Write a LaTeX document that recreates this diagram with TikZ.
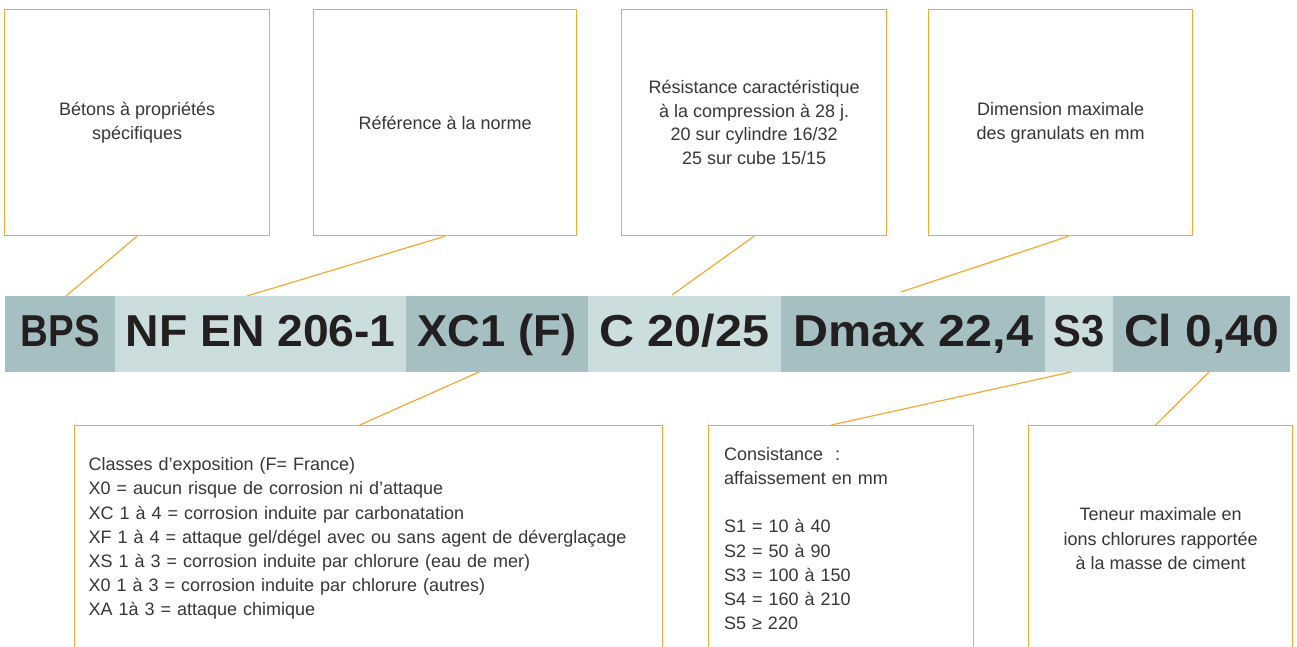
\documentclass[tikz,border=0pt]{standalone}
\usepackage{fontspec}
\setmainfont{Liberation Sans}
\usepackage{graphicx}
\usetikzlibrary{calc}
\definecolor{boxorange}{RGB}{247,168,50}
\definecolor{banddark}{RGB}{165,191,195}
\definecolor{bandlight}{RGB}{203,221,221}
\definecolor{bandtext}{RGB}{35,31,32}
\definecolor{txt}{RGB}{55,55,55}
\newsavebox\bandsbox
\newlength\bandw
\newcommand\bandlabel[2]{\sbox\bandsbox{\fontsize{44.7}{50}\selectfont\bfseries #2}\setlength\bandw{\wd\bandsbox}\pgfmathsetmacro\bandsx{#1/\bandw}\scalebox{\bandsx}[1]{\usebox\bandsbox}}
\tikzset{
  callout/.style={draw=boxorange, line width=1.2pt, fill=white, minimum height=226pt,
    inner sep=0pt, anchor=north west, text=txt},
  toptext/.style={align=center, font=\fontsize{18}{23.7}\selectfont},
  bottext/.style={font=\fontsize{18}{24.2}\selectfont},
  cell/.style={anchor=west, minimum height=76pt, inner sep=0pt, text=bandtext,
    text height=30pt, text depth=5pt},
  dark/.style={fill=banddark},
  light/.style={fill=bandlight},
  connector/.style={draw=boxorange, line width=1.2pt}
}
\begin{document}
\begin{tikzpicture}[x=1pt,y=-1pt]
\useasboundingbox (0,0) rectangle (1297,646);
\clip (0,0) rectangle (1297,646);
% top boxes
\node[callout, toptext, minimum width=265pt] (b1) at (4,9) {Bétons à propriétés\\spécifiques};
\node[callout, toptext, minimum width=263pt] (b2) at (313,9) {Référence à la norme};
\node[callout, toptext, minimum width=265pt] (b3) at (621,9) {Résistance caractéristique\\à la compression à 28 j.\\20 sur cylindre 16/32\\25 sur cube 15/15};
\node[callout, toptext, minimum width=264pt] (b4) at (928,9) {Dimension maximale\\des granulats en mm};
% band
\node[cell, dark, minimum width=110pt] (c1) at (5,334) {\bandlabel{79}{BPS}};
\node[cell, light, minimum width=291pt] (c2) at (115,334) {\bandlabel{270}{NF EN 206-1}};
\node[cell, dark, minimum width=181.5pt] (c3) at (406,334) {\bandlabel{158.6}{XC1 (F)}};
\node[cell, light, minimum width=193.5pt] (c4) at (587.5,334) {\bandlabel{170}{C 20/25}};
\node[cell, dark, minimum width=264pt] (c5) at (781,334) {\bandlabel{240}{Dmax 22,4}};
\node[cell, light, minimum width=68pt] (c6) at (1045,334) {\bandlabel{51}{S3}};
\node[cell, dark, minimum width=177pt] (c7) at (1113,334) {\bandlabel{155}{Cl 0,40}};
% bottom boxes
\node[callout, bottext, align=left, inner xsep=14pt, text width=560pt, minimum width=588pt] (b5) at (74,425) {Classes d’exposition (F= France)\\X0 = aucun risque de corrosion ni d’attaque\\XC 1 à 4 = corrosion induite par carbonatation\\XF 1 à 4 = attaque gel/dégel avec ou sans agent de déverglaçage\\XS 1 à 3 = corrosion induite par chlorure (eau de mer)\\X0 1 à 3 = corrosion induite par chlorure (autres)\\XA 1à 3 = attaque chimique};
\node[callout, bottext, align=left, inner xsep=15.5pt, text width=234pt, minimum width=265pt] (b6) at (708,425) {Consistance~~:\\affaissement en mm\\[24.2pt]S1 = 10 à 40\\S2 = 50 à 90\\S3 = 100 à 150\\S4 = 160 à 210\\S5 ≥ 220};
\node[callout, bottext, align=center, minimum width=264pt] (b7) at (1028,425) {Teneur maximale en\\ions chlorures rapportée\\à la masse de ciment};
% connector end points
\coordinate (e1) at (66,296);
\coordinate (e2) at (247,296);
\coordinate (e3) at (672,295);
\coordinate (e4) at (901,292);
\coordinate (s5) at (479,372);
\coordinate (s6) at (1071,372);
\coordinate (s7) at (1209,372);
% connectors
\draw[connector] (b1.south) -- (e1);
\draw[connector] (b2.south) -- (e2);
\draw[connector] (b3.south) -- (e3);
\draw[connector] ($(b4.south west)!0.53!(b4.south east)$) -- (e4);
\draw[connector] (s5) -- ($(b5.north west)!0.485!(b5.north east)$);
\draw[connector] (s6) -- ($(b6.north west)!0.463!(b6.north east)$);
\draw[connector] (s7) -- ($(b7.north west)!0.481!(b7.north east)$);
\end{tikzpicture}
\end{document}
